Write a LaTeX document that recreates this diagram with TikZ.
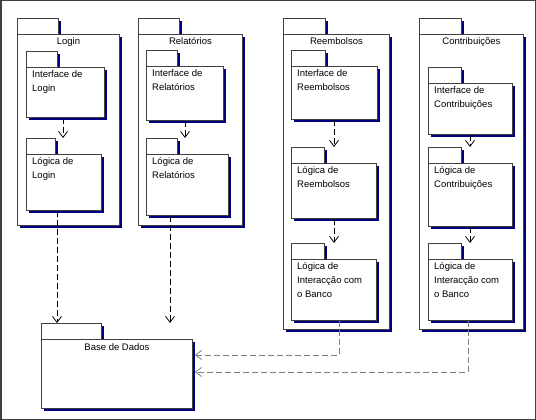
\documentclass[tikz,border=0pt]{standalone}
\usepackage{fontspec}
\setmainfont{Liberation Sans}
\usetikzlibrary{arrows.meta,shadows}
\definecolor{umlnavy}{RGB}{0,0,128}
\definecolor{umledge}{RGB}{64,64,64}
\definecolor{umlgray}{RGB}{128,128,128}
\tikzset{
  pkg/.style={draw=umledge, fill=white, line width=0.9pt, anchor=north west, inner sep=0pt,
    drop shadow={shadow xshift=2.2pt, shadow yshift=-2.2pt, fill=umlnavy, opacity=1}},
  pkgtab/.style={pkg, minimum height=16pt},
  pkgtext/.style={anchor=north west, align=left, inner sep=0pt, font=\fontsize{9.5}{14}\selectfont},
  pkgtitle/.style={anchor=north, inner sep=0pt, font=\fontsize{9.5}{14}\selectfont},
  dep/.style={dash pattern=on 6pt off 3pt, line width=0.8pt, -{Straight Barb[length=6pt,width=9pt]}},
}
\begin{document}
\begin{tikzpicture}[x=1pt,y=-1pt]
  \useasboundingbox (0,0) rectangle (536,420);
  \draw[umledge, line width=1.5pt] (0.75,0.75) rectangle (535.25,419.25);

  % outer packages
  \node[pkgtab, minimum width=41pt] (login-tab) at (17,18) {};
  \node[pkg, minimum width=102pt, minimum height=191pt] (login) at (17,34) {};
  \node[pkgtitle] (login-txt) at ([yshift=-3.5pt]login.north) {Login};

  \node[pkgtab, minimum width=41pt] (rel-tab) at (138,18) {};
  \node[pkg, minimum width=104pt, minimum height=191pt] (rel) at (138,34) {};
  \node[pkgtitle] (rel-txt) at ([yshift=-3.5pt]rel.north) {Relatórios};

  \node[pkgtab, minimum width=42pt] (reemb-tab) at (283,18) {};
  \node[pkg, minimum width=106pt, minimum height=295pt] (reemb) at (283,34) {};
  \node[pkgtitle] (reemb-txt) at ([yshift=-3.5pt]reemb.north) {Reembolsos};

  \node[pkgtab, minimum width=42pt] (contrib-tab) at (419,18) {};
  \node[pkg, minimum width=104pt, minimum height=295pt] (contrib) at (419,34) {};
  \node[pkgtitle] (contrib-txt) at ([yshift=-3.5pt]contrib.north) {Contribuições};

  % Login
  \node[pkgtab, minimum width=31pt] (ilogin-tab) at (26,51) {};
  \node[pkg, minimum width=78pt, minimum height=50pt] (ilogin) at (26,67) {};
  \node[pkgtext] (ilogin-txt) at ([xshift=6pt,yshift=-3pt]ilogin.north west) {Interface de\\Login};
  \node[pkgtab, minimum width=29pt] (llogin-tab) at (26,138) {};
  \node[pkg, minimum width=75pt, minimum height=56pt] (llogin) at (26,154) {};
  \node[pkgtext] (llogin-txt) at ([xshift=6pt,yshift=-3pt]llogin.north west) {Lógica de\\Login};

  % Relatorios
  \node[pkgtab, minimum width=31pt] (irel-tab) at (146,50) {};
  \node[pkg, minimum width=77pt, minimum height=54pt] (irel) at (146,66) {};
  \node[pkgtext] (irel-txt) at ([xshift=6pt,yshift=-3pt]irel.north west) {Interface de\\Relatórios};
  \node[pkgtab, minimum width=31pt] (lrel-tab) at (146,138) {};
  \node[pkg, minimum width=82pt, minimum height=61pt] (lrel) at (146,154) {};
  \node[pkgtext] (lrel-txt) at ([xshift=6pt,yshift=-3pt]lrel.north west) {Lógica de\\Relatórios};

  % Reembolsos
  \node[pkgtab, minimum width=34pt] (ireemb-tab) at (291,50) {};
  \node[pkg, minimum width=86pt, minimum height=53pt] (ireemb) at (291,66) {};
  \node[pkgtext] (ireemb-txt) at ([xshift=6pt,yshift=-3pt]ireemb.north west) {Interface de\\Reembolsos};
  \node[pkgtab, minimum width=33pt] (lreemb-tab) at (291,147) {};
  \node[pkg, minimum width=85pt, minimum height=55pt] (lreemb) at (291,163) {};
  \node[pkgtext] (lreemb-txt) at ([xshift=6pt,yshift=-3pt]lreemb.north west) {Lógica de\\Reembolsos};
  \node[pkgtab, minimum width=33pt] (breemb-tab) at (291,243) {};
  \node[pkg, minimum width=85pt, minimum height=61pt] (breemb) at (291,259) {};
  \node[pkgtext] (breemb-txt) at ([xshift=6pt,yshift=-3pt]breemb.north west) {Lógica de\\Interacção com\\o Banco};

  % Contribuicoes
  \node[pkgtab, minimum width=33pt] (icontrib-tab) at (428,67) {};
  \node[pkg, minimum width=84pt, minimum height=51pt] (icontrib) at (428,83) {};
  \node[pkgtext] (icontrib-txt) at ([xshift=6pt,yshift=-3pt]icontrib.north west) {Interface de\\Contribuições};
  \node[pkgtab, minimum width=33pt] (lcontrib-tab) at (428,147) {};
  \node[pkg, minimum width=84pt, minimum height=63pt] (lcontrib) at (428,163) {};
  \node[pkgtext] (lcontrib-txt) at ([xshift=6pt,yshift=-3pt]lcontrib.north west) {Lógica de\\Contribuições};
  \node[pkgtab, minimum width=33pt] (bcontrib-tab) at (428,243) {};
  \node[pkg, minimum width=84pt, minimum height=61pt] (bcontrib) at (428,259) {};
  \node[pkgtext] (bcontrib-txt) at ([xshift=6pt,yshift=-3pt]bcontrib.north west) {Lógica de\\Interacção com\\o Banco};

  % Base de Dados
  \node[pkgtab, minimum width=60pt] (base-tab) at (41,323) {};
  \node[pkg, minimum width=151pt, minimum height=69pt] (base) at (41,339) {};
  \node[pkgtitle] (base-txt) at ([yshift=-4pt]base.north) {Base de Dados};

  % dependencies
  \draw[dep] ([xshift=37pt]ilogin.south west) -- ([xshift=37pt]ilogin.south west |- llogin-tab.north);
  \draw[dep] ([xshift=39pt]irel.south west) -- ([xshift=39pt]irel.south west |- lrel-tab.north);
  \draw[dep] ([xshift=43pt]ireemb.south west) -- ([xshift=43pt]ireemb.south west |- lreemb-tab.north);
  \draw[dep] ([xshift=43pt]lreemb.south west) -- ([xshift=43pt]lreemb.south west |- breemb-tab.north);
  \draw[dep] ([xshift=42pt]icontrib.south west) -- ([xshift=42pt]icontrib.south west |- lcontrib-tab.north);
  \draw[dep] ([xshift=42pt]lcontrib.south west) -- ([xshift=42pt]lcontrib.south west |- bcontrib-tab.north);

  \draw[dep] ([xshift=31pt]llogin.south west) -- ([xshift=31pt]llogin.south west |- base-tab.north);
  \draw[dep] ([xshift=24pt]lrel.south west) -- ([xshift=24pt]lrel.south west |- base-tab.north);
  \draw[dep, umlgray] ([xshift=48pt]breemb.south west) |- ([xshift=2pt,yshift=-16pt]base.north east);
  \draw[dep, umlgray] ([xshift=40pt]bcontrib.south west) |- ([xshift=2pt,yshift=-33pt]base.north east);
\end{tikzpicture}
\end{document}
